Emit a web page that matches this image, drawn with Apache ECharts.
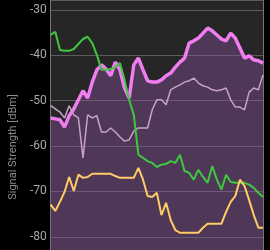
<!DOCTYPE html>
<html>
<head>
<meta charset="utf-8">
<script src="https://cdn.jsdelivr.net/npm/echarts@6/dist/echarts.min.js"></script>
<style>
    html, body { margin: 0; padding: 0; background: #000; }
    #chart { width: 270px; height: 250px; }
</style>
</head>
<body>
<div id="chart"></div>
<script>
// samples along the time axis (no labels shown)
var samples = [];
for (var i = 0; i < 47; i++) samples.push(String(i));

// signal strength per sample, dBm
var pinkSignal = [-53.8, -54.0, -54.2, -55.8, -53.3, -51.8, -49.8, -47.8, -49.4, -45.9,
    -43.2, -42.1, -43.0, -44.5, -41.5, -43.2, -47.2, -49.4, -42.1, -40.6,
    -43.2, -45.6, -45.9, -45.9, -45.4, -44.5, -43.9, -42.6, -41.5, -40.6,
    -37.3, -36.8, -36.2, -35.1, -34.0, -34.6, -35.5, -36.4, -36.8, -35.1,
    -36.2, -38.4, -40.6, -40.1, -41.0, -41.2, -41.7];

var graySignal = [-51.1, -51.8, -52.5, -53.8, -51.1, -53.1, -53.8, -62.6, -53.1, -53.8,
    -53.3, -56.9, -56.9, -56.0, -56.9, -58.0, -58.9, -58.6, -56.7, -56.0,
    -56.0, -56.0, -52.0, -49.8, -49.8, -50.9, -47.6, -47.0, -46.5, -45.9,
    -45.6, -45.0, -46.1, -46.7, -47.0, -47.6, -47.8, -47.6, -47.2, -49.8,
    -51.4, -51.4, -52.0, -48.1, -47.2, -47.6, -44.3];

var greenSignal = [-35.5, -34.8, -38.8, -39.0, -39.0, -38.6, -37.5, -36.4, -35.9, -37.3,
    -39.9, -43.2, -43.2, -43.0, -42.6, -41.7, -45.4, -49.8, -53.1, -61.9,
    -62.6, -63.3, -63.7, -64.6, -64.1, -63.9, -63.3, -63.7, -61.9, -65.5,
    -65.9, -67.4, -65.2, -66.8, -68.1, -64.4, -67.4, -69.6, -66.3, -67.9,
    -68.1, -68.1, -68.1, -68.5, -69.2, -70.3, -71.2];

var yellowSignal = [-72.9, -74.3, -72.3, -70.1, -66.8, -69.9, -66.3, -67.0, -66.8, -66.1,
    -66.1, -66.1, -66.1, -66.1, -66.6, -67.0, -67.0, -67.0, -67.0, -64.8,
    -67.4, -71.0, -71.2, -70.3, -75.2, -72.5, -76.3, -78.5, -79.1, -79.1,
    -79.1, -79.1, -79.1, -78.0, -77.1, -77.1, -77.1, -77.1, -74.5, -72.3,
    -71.0, -67.4, -68.8, -71.9, -75.2, -78.0, -78.0];

var chart = echarts.init(document.getElementById('chart'));

function lineSerie(data, color, width) {
    return {
        type: 'line',
        data: data,
        symbol: 'none',
        smooth: false,
        lineStyle: { color: color, width: width },
        animation: false
    };
}

var pink = lineSerie(pinkSignal, '#f07ef0', 3.5);
pink.areaStyle = { color: 'rgba(140, 80, 160, 0.58)', origin: 'start' };

chart.setOption({
    backgroundColor: '#000',
    animation: false,
    grid: {
        left: 33, right: 7, top: 0, bottom: 0,
        show: true,
        backgroundColor: '#262626',
        borderWidth: 0
    },
    xAxis: {
        type: 'category',
        data: samples,
        boundaryGap: false,
        axisLine: { show: false },
        axisTick: { show: false },
        axisLabel: { show: false },
        splitLine: { show: false }
    },
    yAxis: [{
        type: 'value',
        min: -82.9, max: -27.8, splitNumber: 5,
        name: 'Signal Strength [dBm]',
        nameLocation: 'middle',
        nameRotate: 90,
        nameGap: 27,
        nameTextStyle: {
            color: '#8a8a8a', fontSize: 11, fontFamily: 'Roboto',
            padding: [0, 44, 0, 0]
        },
        axisLine: { show: true, lineStyle: { color: '#777', width: 1 } },
        axisTick: { show: false },
        axisLabel: {
            color: '#a8a8a8', fontSize: 12, fontFamily: 'Roboto', margin: 4,
            showMinLabel: false, showMaxLabel: false
        },
        splitLine: { show: true, lineStyle: { color: '#5c5c5c', width: 1 } }
    }, {
        type: 'value',
        position: 'right',
        min: -82.9, max: -27.8,
        axisLine: { show: true, lineStyle: { color: '#777', width: 1 } },
        axisTick: { show: false },
        axisLabel: { show: false },
        splitLine: { show: false }
    }],
    series: [
        pink,
        lineSerie(graySignal, '#c8a2cc', 1.5),
        lineSerie(greenSignal, '#3fc83f', 2),
        lineSerie(yellowSignal, '#ffcc66', 2)
    ]
});
</script>
</body>
</html>
